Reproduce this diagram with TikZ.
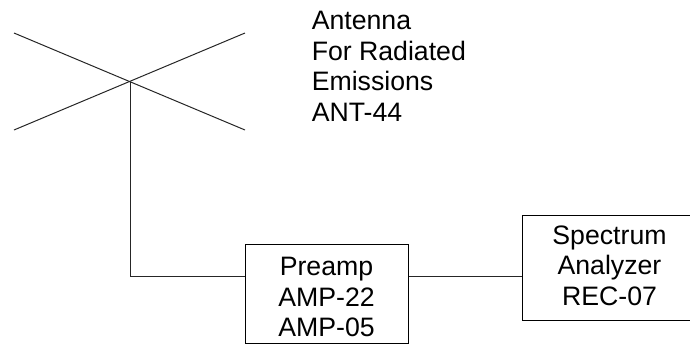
\documentclass[tikz,border=0pt]{standalone}
\usepackage{fontspec}
\setmainfont{Liberation Sans}
\usetikzlibrary{positioning}
\tikzset{
  unitbox/.style={draw=black, fill=white, line width=0.75pt, align=center, inner sep=0pt, font=\fontsize{20}{23}\selectfont},
  caption/.style={align=left, inner sep=0pt, anchor=north west, font=\fontsize{20}{23.2}\selectfont},
  wire/.style={draw=black!85, line width=0.75pt}
}
\begin{document}
\begin{tikzpicture}[x=0.75pt,y=-0.75pt]
  \useasboundingbox (0,0) rectangle (690,344);
  \coordinate (dipoleA) at (14,33);
  \coordinate (dipoleB) at (245,130);
  \coordinate (dipoleC) at (14,130);
  \coordinate (dipoleD) at (245,33);
  \coordinate (feed) at (130,82);
  \coordinate (bend) at (130,276);

  \node[unitbox, minimum width=122.25pt, minimum height=74.25pt] (preamp) at (326.5,293.5) {\rule{0pt}{19pt}Preamp\\AMP-22\\AMP-05};
  \node[unitbox, minimum width=130pt, minimum height=78.75pt] (analyzer) at (609.5,267.5) {Spectrum\\Analyzer\\REC-07\rule[-3pt]{0pt}{0pt}};
  \node[caption] (antenna) at (311.5,10.5) {Antenna\\For Radiated\\Emissions\\ANT-44};

  \draw[wire] (dipoleA) -- (dipoleB);
  \draw[wire] (dipoleC) -- (dipoleD);
  \draw[wire] (feed) -- (bend) -- (preamp.west |- bend);
  \draw[wire] (preamp.east |- bend) -- (analyzer.west |- bend);
\end{tikzpicture}
\end{document}
